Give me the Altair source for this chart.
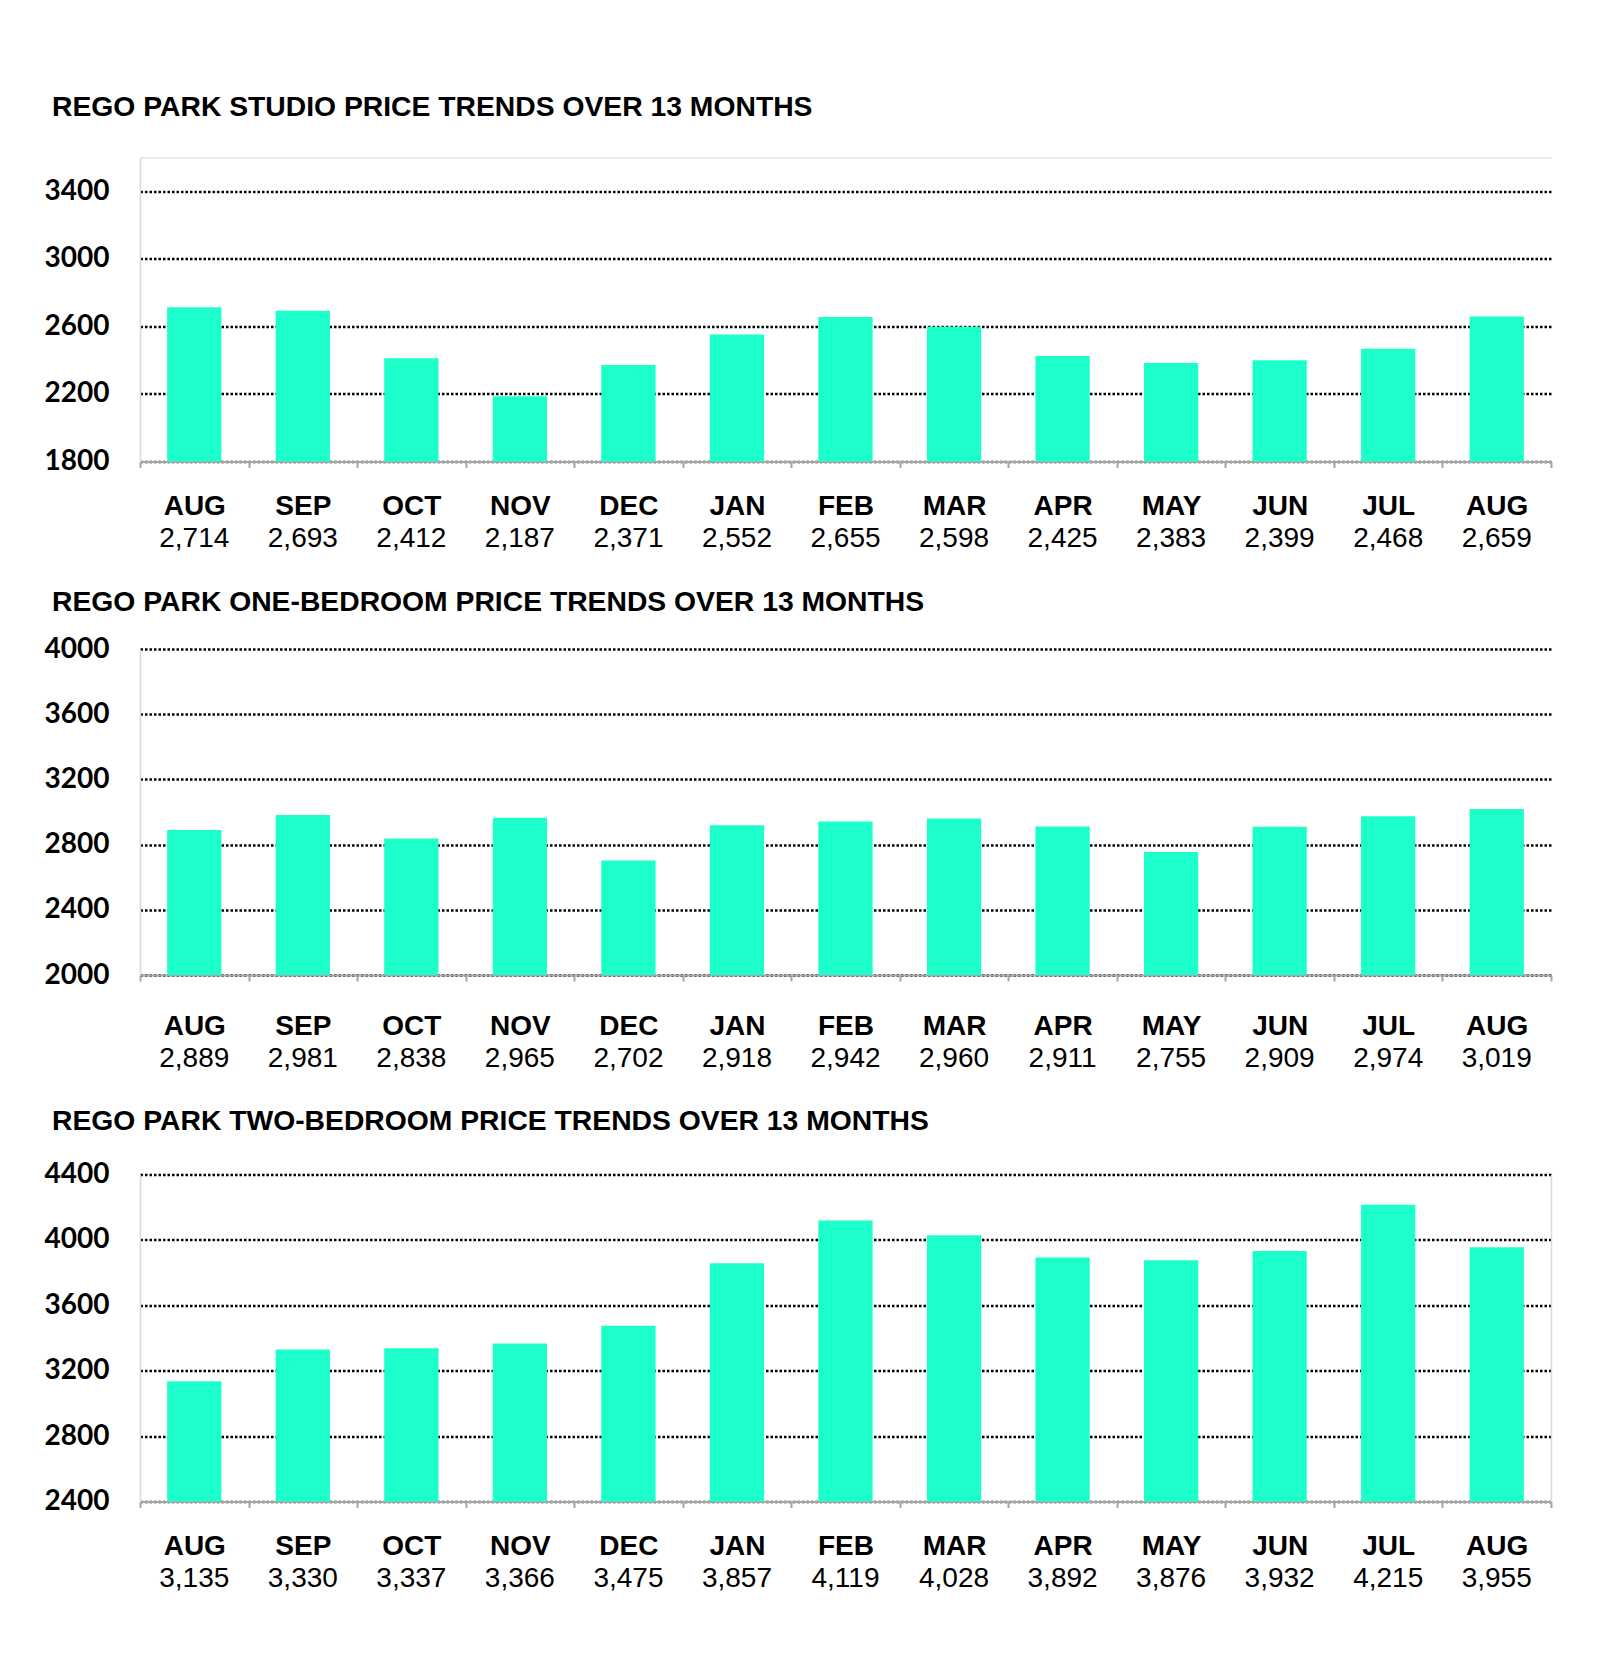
import altair as alt
import pandas as pd

months = ["AUG", "SEP", "OCT", "NOV", "DEC", "JAN", "FEB", "MAR", "APR", "MAY", "JUN", "JUL", "AUG"]
studio = [2714, 2693, 2412, 2187, 2371, 2552, 2655, 2598, 2425, 2383, 2399, 2468, 2659]
one_bed = [2889, 2981, 2838, 2965, 2702, 2918, 2942, 2960, 2911, 2755, 2909, 2974, 3019]
two_bed = [3135, 3330, 3337, 3366, 3475, 3857, 4119, 4028, 3892, 3876, 3932, 4215, 3955]

titles = [
    "REGO PARK STUDIO PRICE TRENDS OVER 13 MONTHS",
    "REGO PARK ONE-BEDROOM PRICE TRENDS OVER 13 MONTHS",
    "REGO PARK TWO-BEDROOM PRICE TRENDS OVER 13 MONTHS",
]
y_domains = [(1800, 3600), (2000, 4000), (2400, 4400)]

BAR = "#1CFFCB"
W = 1411
ARIAL = "Liberation Sans"


def panel(title, vals, dmin, dmax, h, toff, month_pad, value_pad,
          top_border=False, right_border=False):
    df = pd.DataFrame({"idx": list(range(len(months))), "value": vals})
    month_expr = "[" + ",".join(f"'{m}'" for m in months) + "][datum.value]"
    value_expr = "[" + ",".join(f"'{v:,}'" for v in vals) + "][datum.value]"
    xscale = alt.Scale(paddingInner=0, paddingOuter=0)
    yscale = alt.Scale(domain=[dmin, dmax], nice=False, zero=False)
    base = alt.Chart(df)

    bars = base.mark_bar(color=BAR, width=alt.RelativeBandSize(0.5)).encode(
        x=alt.X("idx:O", scale=xscale, axis=alt.Axis(
            orient="bottom", title=None, labelExpr=month_expr, labelAngle=0,
            labelFont=ARIAL, labelFontSize=28, labelFontWeight="bold",
            labelColor="black", labelBaseline="middle", labelPadding=month_pad,
            domainColor="#a6a6a6", domainWidth=2,
            ticks=True, tickBand="extent", tickSize=6, tickColor="#a6a6a6", tickWidth=2,
            grid=False)),
        y=alt.Y("value:Q", scale=yscale, axis=alt.Axis(
            orient="left", title=None, values=list(range(dmin, dmax + 1, 400)), format="d",
            labelFont="Lato", labelFontSize=28, labelFontWeight="bold",
            labelColor="black", labelPadding=31, ticks=False,
            domainColor="#d9d9d9", domainWidth=1.5,
            grid=True, gridColor="#000000", gridDash=[2.5, 2], gridWidth=2.3)),
        y2=alt.datum(dmin),
    )

    value_axis_y = alt.Axis(
        orient="right", title=None, labels=False, ticks=False, grid=False,
        domainColor="#d9d9d9", domainWidth=1.5) if right_border else None
    vlayer = base.mark_bar(opacity=0, width=alt.RelativeBandSize(0.5)).encode(
        x=alt.X("idx:O", scale=xscale, axis=alt.Axis(
            orient="bottom", title=None, labelExpr=value_expr, labelAngle=0,
            labelFont=ARIAL, labelFontSize=28, labelFontWeight="normal",
            labelColor="black", labelBaseline="middle", labelPadding=value_pad,
            domain=False, ticks=False, grid=False)),
        y=alt.Y("value:Q", scale=yscale, axis=value_axis_y),
        y2=alt.datum(dmin),
    )
    layers = [bars, vlayer]
    if top_border:
        tlayer = base.mark_bar(opacity=0, width=alt.RelativeBandSize(0.5)).encode(
            x=alt.X("idx:O", scale=xscale, axis=alt.Axis(
                orient="top", title=None, labels=False, ticks=False, grid=False,
                domainColor="#e3e3e3", domainWidth=1.5)),
            y=alt.Y("value:Q", scale=yscale, axis=None),
            y2=alt.datum(dmin),
        )
        layers.append(tlayer)

    return alt.layer(*layers).resolve_axis(x="independent", y="independent").properties(
        width=W, height=h,
        title=alt.TitleParams(
            text=title, anchor="start", dx=8, font=ARIAL, fontSize=28.3,
            fontWeight="bold", color="black", baseline="alphabetic", offset=toff),
    )


p1 = panel(titles[0], studio, *y_domains[0], 304, 13, 39, 77, top_border=True)
p2 = panel(titles[1], one_bed, *y_domains[1], 326, -4, 45, 83)
p3 = panel(titles[2], two_bed, *y_domains[2], 327, 2, 39, 77, right_border=True)

chart = alt.vconcat(p1, p2, p3, spacing=34.5).configure_view(stroke=None).properties(
    padding={"left": 36, "top": 84.5, "right": 5, "bottom": 5},
    background="white",
)

chart.save("out.html", embed_options={"renderer": "svg", "actions": False})
